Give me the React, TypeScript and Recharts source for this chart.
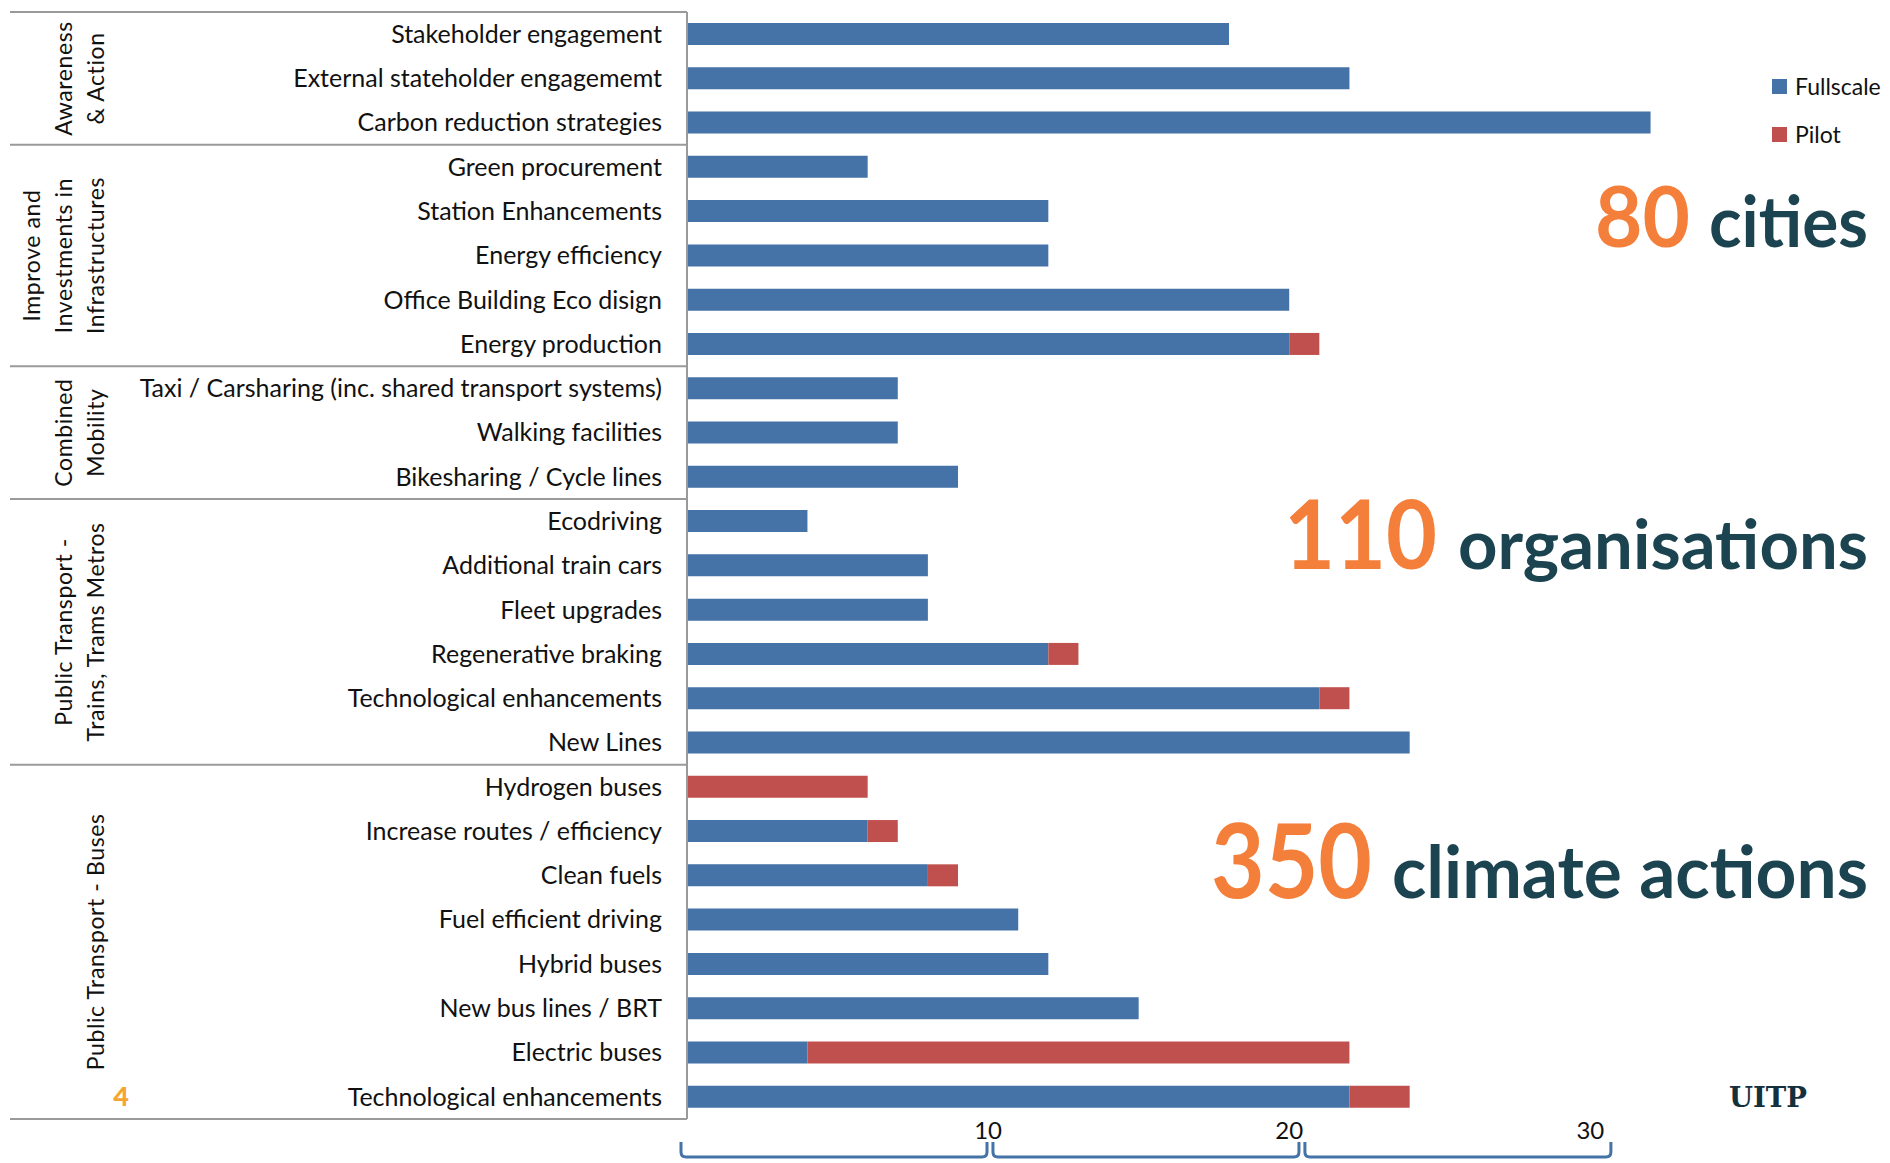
import React from 'react';
import { BarChart, Bar, XAxis, YAxis, Legend } from 'recharts';

const categories = [
  'Stakeholder engagement',
  'External stateholder engagememt',
  'Carbon reduction strategies',
  'Green procurement',
  'Station Enhancements',
  'Energy efficiency',
  'Office Building Eco disign',
  'Energy production',
  'Taxi / Carsharing (inc. shared transport systems)',
  'Walking facilities',
  'Bikesharing / Cycle lines',
  'Ecodriving',
  'Additional train cars',
  'Fleet upgrades',
  'Regenerative braking',
  'Technological enhancements',
  'New Lines',
  'Hydrogen buses',
  'Increase routes / efficiency',
  'Clean fuels',
  'Fuel efficient driving',
  'Hybrid buses',
  'New bus lines / BRT',
  'Electric buses',
  'Technological enhancements',
];

const fullscale = [18, 22, 32, 6, 12, 12, 20, 20, 7, 7, 9, 4, 8, 8, 12, 21, 24, 0, 6, 8, 11, 12, 15, 4, 22];
const pilot = [0, 0, 0, 0, 0, 0, 0, 1, 0, 0, 0, 0, 0, 0, 1, 1, 0, 6, 1, 1, 0, 0, 0, 18, 2];

const groupLabels = [
  ['Awareness', '& Action'],
  ['Improve and', 'Investments in', 'Infrastructures'],
  ['Combined', 'Mobility'],
  ['Public Transport -', 'Trains, Trams Metros'],
  ['Public Transport - Buses'],
];
const groupSizes = [3, 5, 3, 6, 8];

const xTicks = [10, 20, 30];

const highlights = [
  { num: '80', word: 'cities' },
  { num: '110', word: 'organisations' },
  { num: '350', word: 'climate actions' },
];

const data = categories.map((name, i) => ({
  id: String(i),
  name,
  Fullscale: fullscale[i],
  Pilot: pilot[i],
}));

// layout
const W = 1890;
const H = 1163;
const AXIS_X = 687;
const RIGHT = 119;
const TOP = 12;
const X_H = 44;
const X_MAX = 36;
const BAND = (H - TOP - X_H) / categories.length;
const PPU = (W - AXIS_X - RIGHT) / X_MAX;

const BLUE = '#4572A7';
const RED = '#C0504D';
const LINE = '#9a9a9a';
const FONT = 'Lato, "Open Sans", sans-serif';

const groupStarts: number[] = [];
groupSizes.reduce((acc, n) => {
  groupStarts.push(acc);
  return acc + n;
}, 0);

const CategoryTick = (props: any) => {
  const { y, payload } = props;
  const i = Number(payload.value);
  const g = groupStarts.indexOf(i);
  const top = y - BAND / 2;
  return (
    <g>
      <text x={AXIS_X - 25} y={y} dy="0.35em" textAnchor="end" fontSize={25} fill="#111" fontFamily={FONT}>
        {categories[i]}
      </text>
      {g >= 0 && (
        <g>
          <line x1={10} x2={AXIS_X} y1={top} y2={top} stroke={LINE} strokeWidth={2} />
          {groupLabels[g].map((ln, k) => {
            const n = groupLabels[g].length;
            const lx = 96 - (n - 1 - k) * 32;
            const cy = top + (groupSizes[g] * BAND) / 2;
            return (
              <text
                key={k}
                x={lx}
                y={cy}
                dy="0.35em"
                textAnchor="middle"
                transform={`rotate(-90, ${lx}, ${cy})`}
                fontSize={23}
                letterSpacing={0.6}
                fill="#111"
                fontFamily={FONT}
              >
                {ln}
              </text>
            );
          })}
        </g>
      )}
      {i === categories.length - 1 && (
        <line x1={10} x2={AXIS_X} y1={y + BAND / 2} y2={y + BAND / 2} stroke={LINE} strokeWidth={2} />
      )}
    </g>
  );
};

// the braces under the axis run a little wider than the tick spacing
const ValueTick = (props: any) => {
  const { x, payload } = props;
  const x0 = AXIS_X - 6 + (x - 10 * PPU - AXIS_X) * 1.036;
  const x1 = x0 + 306;
  const base = H - X_H;
  return (
    <g>
      <text x={x} y={base + 12} dy="0.35em" textAnchor="middle" fontSize={24} fill="#111" fontFamily={FONT}>
        {payload.value}
      </text>
      <path
        d={`M${x0},${base + 23} L${x0},${base + 33} Q${x0},${base + 38} ${x0 + 5},${base + 38} L${x1 - 5},${base + 38} Q${x1},${base + 38} ${x1},${base + 33} L${x1},${base + 23}`}
        fill="none"
        stroke={BLUE}
        strokeWidth={3}
      />
    </g>
  );
};

const LegendBox = () => (
  <div style={{ fontFamily: FONT, fontSize: 23, color: '#111' }}>
    {[
      ['Fullscale', BLUE],
      ['Pilot', RED],
    ].map(([label, color]) => (
      <div key={label} style={{ display: 'flex', alignItems: 'center', height: 48 }}>
        <span style={{ width: 15, height: 15, background: color, marginRight: 8, display: 'inline-block' }} />
        {label}
      </div>
    ))}
  </div>
);

const highlightPos = [
  { numX: 1595, numW: 95, wordX: 1709, wordW: 159, base: 247, numSize: 84, wordSize: 70 },
  { numX: 1284, numW: 153, wordX: 1458, wordW: 410, base: 569, numSize: 96, wordSize: 68 },
  { numX: 1211, numW: 161, wordX: 1392, wordW: 476, base: 898, numSize: 104, wordSize: 72 },
];

export default function App() {
  return (
    <div style={{ position: 'absolute', left: 0, top: 0, width: W, height: H, background: '#fff' }}>
      <BarChart
        width={W}
        height={H}
        data={data}
        layout="vertical"
        barSize={22}
        margin={{ top: TOP, right: RIGHT, bottom: 0, left: 0 }}
      >
        <XAxis
          type="number"
          domain={[0, X_MAX]}
          ticks={xTicks}
          height={X_H}
          axisLine={false}
          tickLine={false}
          tick={<ValueTick />}
          interval={0}
        />
        <YAxis
          type="category"
          dataKey="id"
          width={AXIS_X}
          axisLine={{ stroke: LINE, strokeWidth: 2 }}
          tickLine={false}
          tick={<CategoryTick />}
          interval={0}
        />
        <Legend
          layout="horizontal"
          verticalAlign="middle"
          align="center"
          content={<LegendBox />}
          wrapperStyle={{ position: 'absolute', left: 1772, top: 62, width: 118 }}
        />
        <Bar dataKey="Fullscale" stackId="a" fill={BLUE} isAnimationActive={false} />
        <Bar dataKey="Pilot" stackId="a" fill={RED} isAnimationActive={false} />
      </BarChart>
      <svg width={W} height={H} style={{ position: 'absolute', left: 0, top: 0, pointerEvents: 'none' }}>
        {highlights.map((h, i) => {
          const p = highlightPos[i];
          return (
            <g key={h.num}>
              <text
                x={p.numX}
                y={p.base}
                fontSize={p.numSize}
                fontWeight={700}
                fill="#F47F3A"
                fontFamily={FONT}
                textLength={p.numW}
                lengthAdjust="spacingAndGlyphs"
              >
                {h.num}
              </text>
              <text
                x={p.wordX}
                y={p.base}
                fontSize={p.wordSize}
                fontWeight={700}
                fill="#1B4450"
                fontFamily={FONT}
                textLength={p.wordW}
                lengthAdjust="spacingAndGlyphs"
              >
                {h.word}
              </text>
            </g>
          );
        })}
        <text x={121} y={1097} dy="0.35em" textAnchor="middle" fontSize={27} fontWeight={900} fill="#F5A630" fontFamily={FONT}>
          4
        </text>
        <text
          x={1768}
          y={1097}
          dy="0.35em"
          textAnchor="middle"
          fontSize={28}
          fontWeight={700}
          fill="#14303c"
          fontFamily='"DejaVu Serif", serif'
          textLength={78}
          lengthAdjust="spacingAndGlyphs"
        >
          UITP
        </text>
      </svg>
    </div>
  );
}
